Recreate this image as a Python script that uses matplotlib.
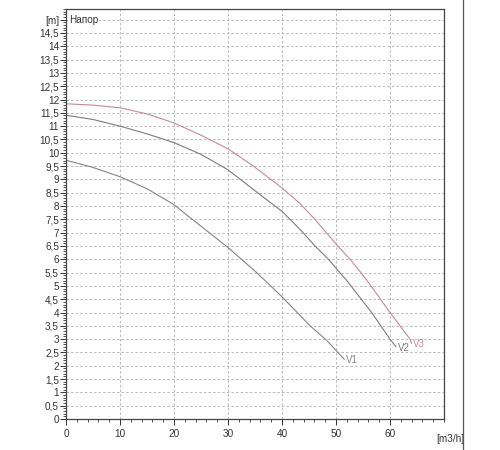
import matplotlib
matplotlib.use("Agg")
import matplotlib.pyplot as plt
from matplotlib.ticker import MultipleLocator, FixedLocator
from matplotlib.lines import Line2D

plt.rcParams['font.family'] = ['Liberation Sans', 'DejaVu Sans']

# curves (Q in m3/h, H in m)
q1 = [0, 5, 10, 15, 20, 22.2, 30, 35.3, 40, 45.2, 48.3, 51.5]
h1 = [9.72, 9.45, 9.1, 8.65, 8.05, 7.69, 6.44, 5.5, 4.59, 3.5, 2.95, 2.25]

q2 = [0, 5, 10, 15, 20, 25, 30, 34.7, 40, 41.5, 43.9, 46.1, 48.6, 50.7,
      52, 56.6, 60, 61.1]
h2 = [11.41, 11.25, 11.0, 10.71, 10.38, 9.94, 9.36, 8.62, 7.8, 7.5, 7.0,
      6.5, 6.0, 5.5, 5.2, 4.0, 3.0, 2.72]

q3 = [0, 5, 10, 15, 20, 25, 30, 34.7, 40, 43.3, 46.1, 48, 50.1, 52.6,
      54.8, 56.3, 60, 63.7, 64.0]
h3 = [11.84, 11.79, 11.69, 11.46, 11.12, 10.66, 10.15, 9.5, 8.68, 8.1,
      7.5, 7.05, 6.55, 6.0, 5.45, 5.05, 4.0, 3.0, 2.85]

curve_names = ['V1', 'V2', 'V3']
curve_colors = ['#858585', '#7c7c7c', '#c48a96']

y_ticks = [i * 0.5 for i in range(31)]
y_labels = [('%g' % v).replace('.', ',') for v in y_ticks[:-1]] + ['[m]']
x_ticks = [0, 10, 20, 30, 40, 50, 60]

fig = plt.figure(figsize=(5, 4.5), dpi=100)
ax = fig.add_axes([66 / 500, 31 / 450, 378 / 500, 410 / 450])

for q, h, name, c in zip([q1, q2, q3], [h1, h2, h3], curve_names, curve_colors):
    ax.plot(q, h, color=c, lw=0.8)
    ax.text(q[-1] + 0.3, h[-1] - 0.05, name, color=c, fontsize=7,
            ha='left', va='center')

ax.set_xlim(0, 70)
ax.set_ylim(0, 15.4)

ax.yaxis.set_major_locator(FixedLocator(y_ticks))
ax.set_yticklabels(y_labels)
ax.yaxis.set_minor_locator(MultipleLocator(0.1))
ax.xaxis.set_major_locator(FixedLocator(x_ticks))
ax.xaxis.set_minor_locator(MultipleLocator(2))

ax.tick_params(axis='both', which='major', labelsize=7.2, length=4,
               width=0.7, colors='#333333', pad=1)
ax.tick_params(axis='both', which='minor', length=2.5, width=0.6,
               colors='#333333')
ax.tick_params(axis='x', which='major', pad=3)

ax.grid(True, which='major', color='#b0b0b0', lw=0.6, linestyle=(0, (3, 2.5)))
for s in ax.spines.values():
    s.set_color('#444444')
    s.set_linewidth(0.9)

ax.text(0.5, 15, 'Напор', fontsize=7.2, color='#333333', ha='left',
        va='center', bbox=dict(facecolor='white', edgecolor='none', pad=0.5))
ax.text(71.2, -0.55, '[m3/h]', fontsize=7.2, color='#333333', ha='center',
        va='top', clip_on=False)

# image frame line on the right
fig.add_artist(Line2D([463 / 500, 463 / 500], [0, 1], color='#555555',
                      lw=0.9, transform=fig.transFigure))

fig.savefig('out.png', dpi=100)
plt.close(fig)
